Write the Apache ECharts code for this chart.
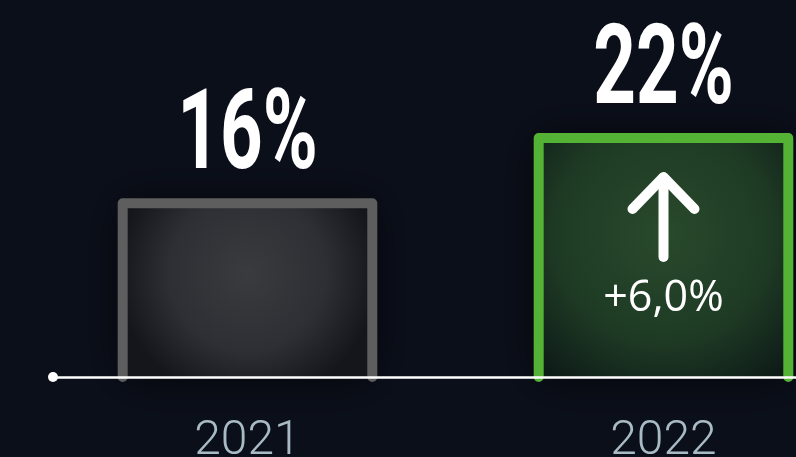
<!DOCTYPE html>
<html>
<head>
<meta charset="utf-8">
<script src="https://cdn.jsdelivr.net/npm/echarts@6/dist/echarts.min.js"></script>
<style>
  html, body { margin: 0; padding: 0; background: #0b0f1a; }
  #main { width: 796px; height: 457px; }
</style>
</head>
<body>
<div id="main"></div>
<script>
// data
const years = ['2021', '2022'];
const shares = [16, 22];

// looks per bar (border colour + inner glow)
const looks = [
  { border: '#5e5e5e', glow: ['#3a3b3f', '#2e2f34', '#15161c'] },
  { border: '#54b235', glow: ['#294a2c', '#1e3a24', '#0e1c18'] }
];
const HALF = 0.3; // half bar width, x units

const chart = echarts.init(document.getElementById('main'));

function fmtDelta(d) {
  return (d > 0 ? '+' : '') + d.toFixed(1).replace('.', ',') + '%';
}

function renderBar(params, api) {
  const i = api.value(0);
  const val = api.value(1);
  const top = api.coord([i, val]);
  const base = api.coord([i, 0]);
  const l = api.coord([i - HALF, 0])[0];
  const r = api.coord([i + HALF, 0])[0];
  const cx = top[0];
  const look = looks[i];
  const g = look.glow;
  const children = [
    {
      type: 'rect',
      shape: { x: l, y: top[1], width: r - l, height: base[1] - top[1] },
      style: {
        fill: new echarts.graphic.RadialGradient(0.5, 0.4, 0.75, [
          { offset: 0, color: g[0] },
          { offset: 0.6, color: g[1] },
          { offset: 1, color: g[2] }
        ]),
        shadowBlur: 40,
        shadowColor: 'rgba(0,0,0,0.75)'
      }
    },
    {
      type: 'polyline',
      shape: { points: [[l, base[1]], [l, top[1]], [r, top[1]], [r, base[1]]] },
      style: { stroke: look.border, lineWidth: 10, fill: null, lineCap: 'round', lineJoin: 'round' }
    },
    {
      type: 'text',
      x: cx,
      y: top[1] - 63,
      scaleX: 0.665,
      style: {
        text: val + '%',
        font: 'bold 112px Roboto',
        fill: '#ffffff',
        align: 'center',
        verticalAlign: 'middle'
      }
    }
  ];
  if (i > 0) {
    const d = val - shares[i - 1];
    if (d > 0) {
      children.push({
        type: 'polyline',
        shape: { points: [[cx - 31, top[1] + 71], [cx, top[1] + 39], [cx + 31, top[1] + 71]] },
        style: { stroke: '#fff', lineWidth: 10, fill: null, lineCap: 'round', lineJoin: 'round' }
      });
      children.push({
        type: 'line',
        shape: { x1: cx, y1: top[1] + 40, x2: cx, y2: top[1] + 119 },
        style: { stroke: '#fff', lineWidth: 10, lineCap: 'round' }
      });
    }
    children.push({
      type: 'text',
      x: cx,
      y: top[1] + 161,
      style: {
        text: fmtDelta(d),
        font: '43px "Open Sans"',
        fill: '#ffffff',
        align: 'center',
        verticalAlign: 'middle'
      }
    });
  }
  return { type: 'group', children: children };
}

chart.setOption({
  backgroundColor: '#0b0f1a',
  animation: false,
  grid: { left: 53, right: 0, top: 0, bottom: 80, outerBoundsMode: 'none' },
  xAxis: {
    type: 'value',
    min: -0.4675,
    max: 1.3185,
    z: 5,
    splitLine: { show: false },
    axisTick: { show: false },
    axisLine: {
      show: true,
      symbol: ['circle', 'none'],
      symbolSize: [10, 10],
      lineStyle: { color: '#ffffff', width: 2.5 }
    },
    axisLabel: {
      customValues: [0, 1],
      formatter: (v) => years[Math.round(v)],
      color: '#a8bac4',
      fontFamily: 'Roboto',
      fontWeight: 300,
      fontSize: 48,
      margin: 41
    }
  },
  yAxis: {
    type: 'value',
    min: 0,
    max: 34.7,
    show: false
  },
  series: [
    {
      type: 'custom',
      renderItem: renderBar,
      encode: { x: 0, y: 1 },
      data: shares.map((v, i) => [i, v])
    }
  ]
});
</script>
</body>
</html>
